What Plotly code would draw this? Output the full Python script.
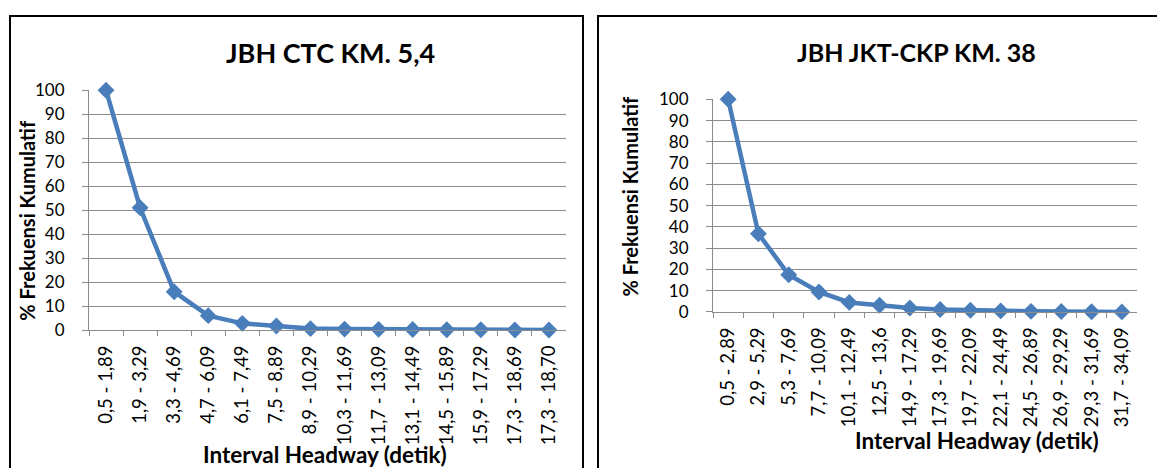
import plotly.graph_objects as go

W, H = 1157, 468

# ---- data ----
left_title = "JBH CTC KM. 5,4"
left_categories = ["0,5 - 1,89", "1,9 - 3,29", "3,3 - 4,69", "4,7 - 6,09", "6,1 - 7,49",
                   "7,5 - 8,89", "8,9 - 10,29", "10,3 - 11,69", "11,7 - 13,09", "13,1 - 14,49",
                   "14,5 - 15,89", "15,9 - 17,29", "17,3 - 18,69", "17,3 - 18,70"]
left_values = [100, 51, 16, 6, 2.8, 1.7, 0.6, 0.4, 0.3, 0.2, 0.1, 0.1, 0.05, 0]

right_title = "JBH JKT-CKP KM. 38"
right_categories = ["0,5 - 2,89", "2,9 - 5,29", "5,3 - 7,69", "7,7 - 10,09", "10,1 - 12,49",
                    "12,5 - 13,6", "14,9 - 17,29", "17,3 - 19,69", "19,7 - 22,09", "22,1 - 24,49",
                    "24,5 - 26,89", "26,9 - 29,29", "29,3 - 31,69", "31,7 - 34,09"]
right_values = [100, 36.8, 17.5, 9.4, 4.5, 3.2, 1.9, 1.2, 0.8, 0.5, 0.3, 0.2, 0.1, 0.05]

y_title = "% Frekuensi Kumulatif"
x_title = "Interval Headway (detik)"
y_ticks = list(range(0, 101, 10))

FONT = "Lato"
BLUE = "#4A7EBB"
GRID = "#8C8C8C"


def px_x(p):
    return p / W


def px_y(p):
    # vertical placement, compensated for the observed vertical fit of the capture
    q = (p - 10) / 0.952
    return 1 - q / H


fig = go.Figure()

for i, (cats, vals) in enumerate([(left_categories, left_values), (right_categories, right_values)]):
    fig.add_trace(go.Scatter(
        x=cats, y=vals, mode="lines+markers",
        line=dict(color=BLUE, width=4.5),
        marker=dict(symbol="diamond", size=13, color=BLUE),
        xaxis="x" if i == 0 else "x2", yaxis="y" if i == 0 else "y2",
        cliponaxis=False, showlegend=False,
    ))

xaxis_common = dict(
    type="category", tickson="boundaries", ticks="outside", ticklen=5,
    tickcolor=GRID, showline=True, linecolor=GRID, linewidth=1,
    showgrid=False, tickangle=-90, zeroline=False,
    tickfont=dict(family=FONT, size=18.5, color="#000"),
    ticklabelstandoff=7, fixedrange=True,
)
yaxis_common = dict(
    range=[0, 100], tickvals=y_ticks, ticks="outside", ticklen=6,
    tickcolor=GRID, showline=True, linecolor=GRID, linewidth=1,
    showgrid=True, gridcolor=GRID, gridwidth=1, zeroline=False,
    tickfont=dict(family=FONT, size=17, color="#000"),
    ticklabelstandoff=14, fixedrange=True,
)

fig.update_layout(
    width=W, height=H, autosize=False, margin=dict(l=0, r=0, t=0, b=0),
    paper_bgcolor="white", plot_bgcolor="white",
    xaxis=dict(domain=[px_x(89), px_x(566)], anchor="y", range=[-0.5, 13.5], **xaxis_common),
    yaxis=dict(domain=[px_y(328), px_y(89)], anchor="x", **yaxis_common),
    xaxis2=dict(domain=[px_x(713), px_x(1137)], anchor="y2", range=[-0.5, 13.5], **xaxis_common),
    yaxis2=dict(domain=[px_y(310), px_y(98)], anchor="x2", **yaxis_common),
)

# frames
fig.add_shape(type="rect", xref="paper", yref="paper",
              x0=px_x(10), x1=px_x(583), y0=-0.1, y1=px_y(15),
              line=dict(color="#000", width=2))
fig.add_shape(type="rect", xref="paper", yref="paper",
              x0=px_x(598), x1=px_x(1175), y0=-0.1, y1=px_y(15),
              line=dict(color="#000", width=2))

annos = [
    (left_title, 330, 51, 0, 27),
    (right_title, 916, 51, 0, 25),
    (x_title, 325, 452, 0, 22.5),
    (x_title, 977, 438, 0, 22.5),
    (y_title, 27, 219, -90, 20),
    (y_title, 630, 195, -90, 20),
]
for text, x, y, ang, size in annos:
    fig.add_annotation(text=f"<b>{text}</b>", xref="paper", yref="paper",
                       x=px_x(x), y=px_y(y), xanchor="center", yanchor="middle",
                       showarrow=False, textangle=ang,
                       font=dict(family=FONT, size=size, color="#000"))

post = (
    "var d=document.getElementById('{plot_id}');"
    "var s='margin:0;padding:0;overflow:hidden;width:1157px;height:468px;';"
    "document.documentElement.style.cssText=s;"
    "document.body.style.cssText=s+'position:relative;';"
    "d.parentElement.style.cssText=s+'position:relative;';"
    "d.style.position='absolute';d.style.left='0px';d.style.top='0px';"
    "window.scrollTo(0,0);"
)

fig.write_html("out.html", config={"displayModeBar": False, "responsive": False},
               post_script=post, default_width="1157px", default_height="468px")
